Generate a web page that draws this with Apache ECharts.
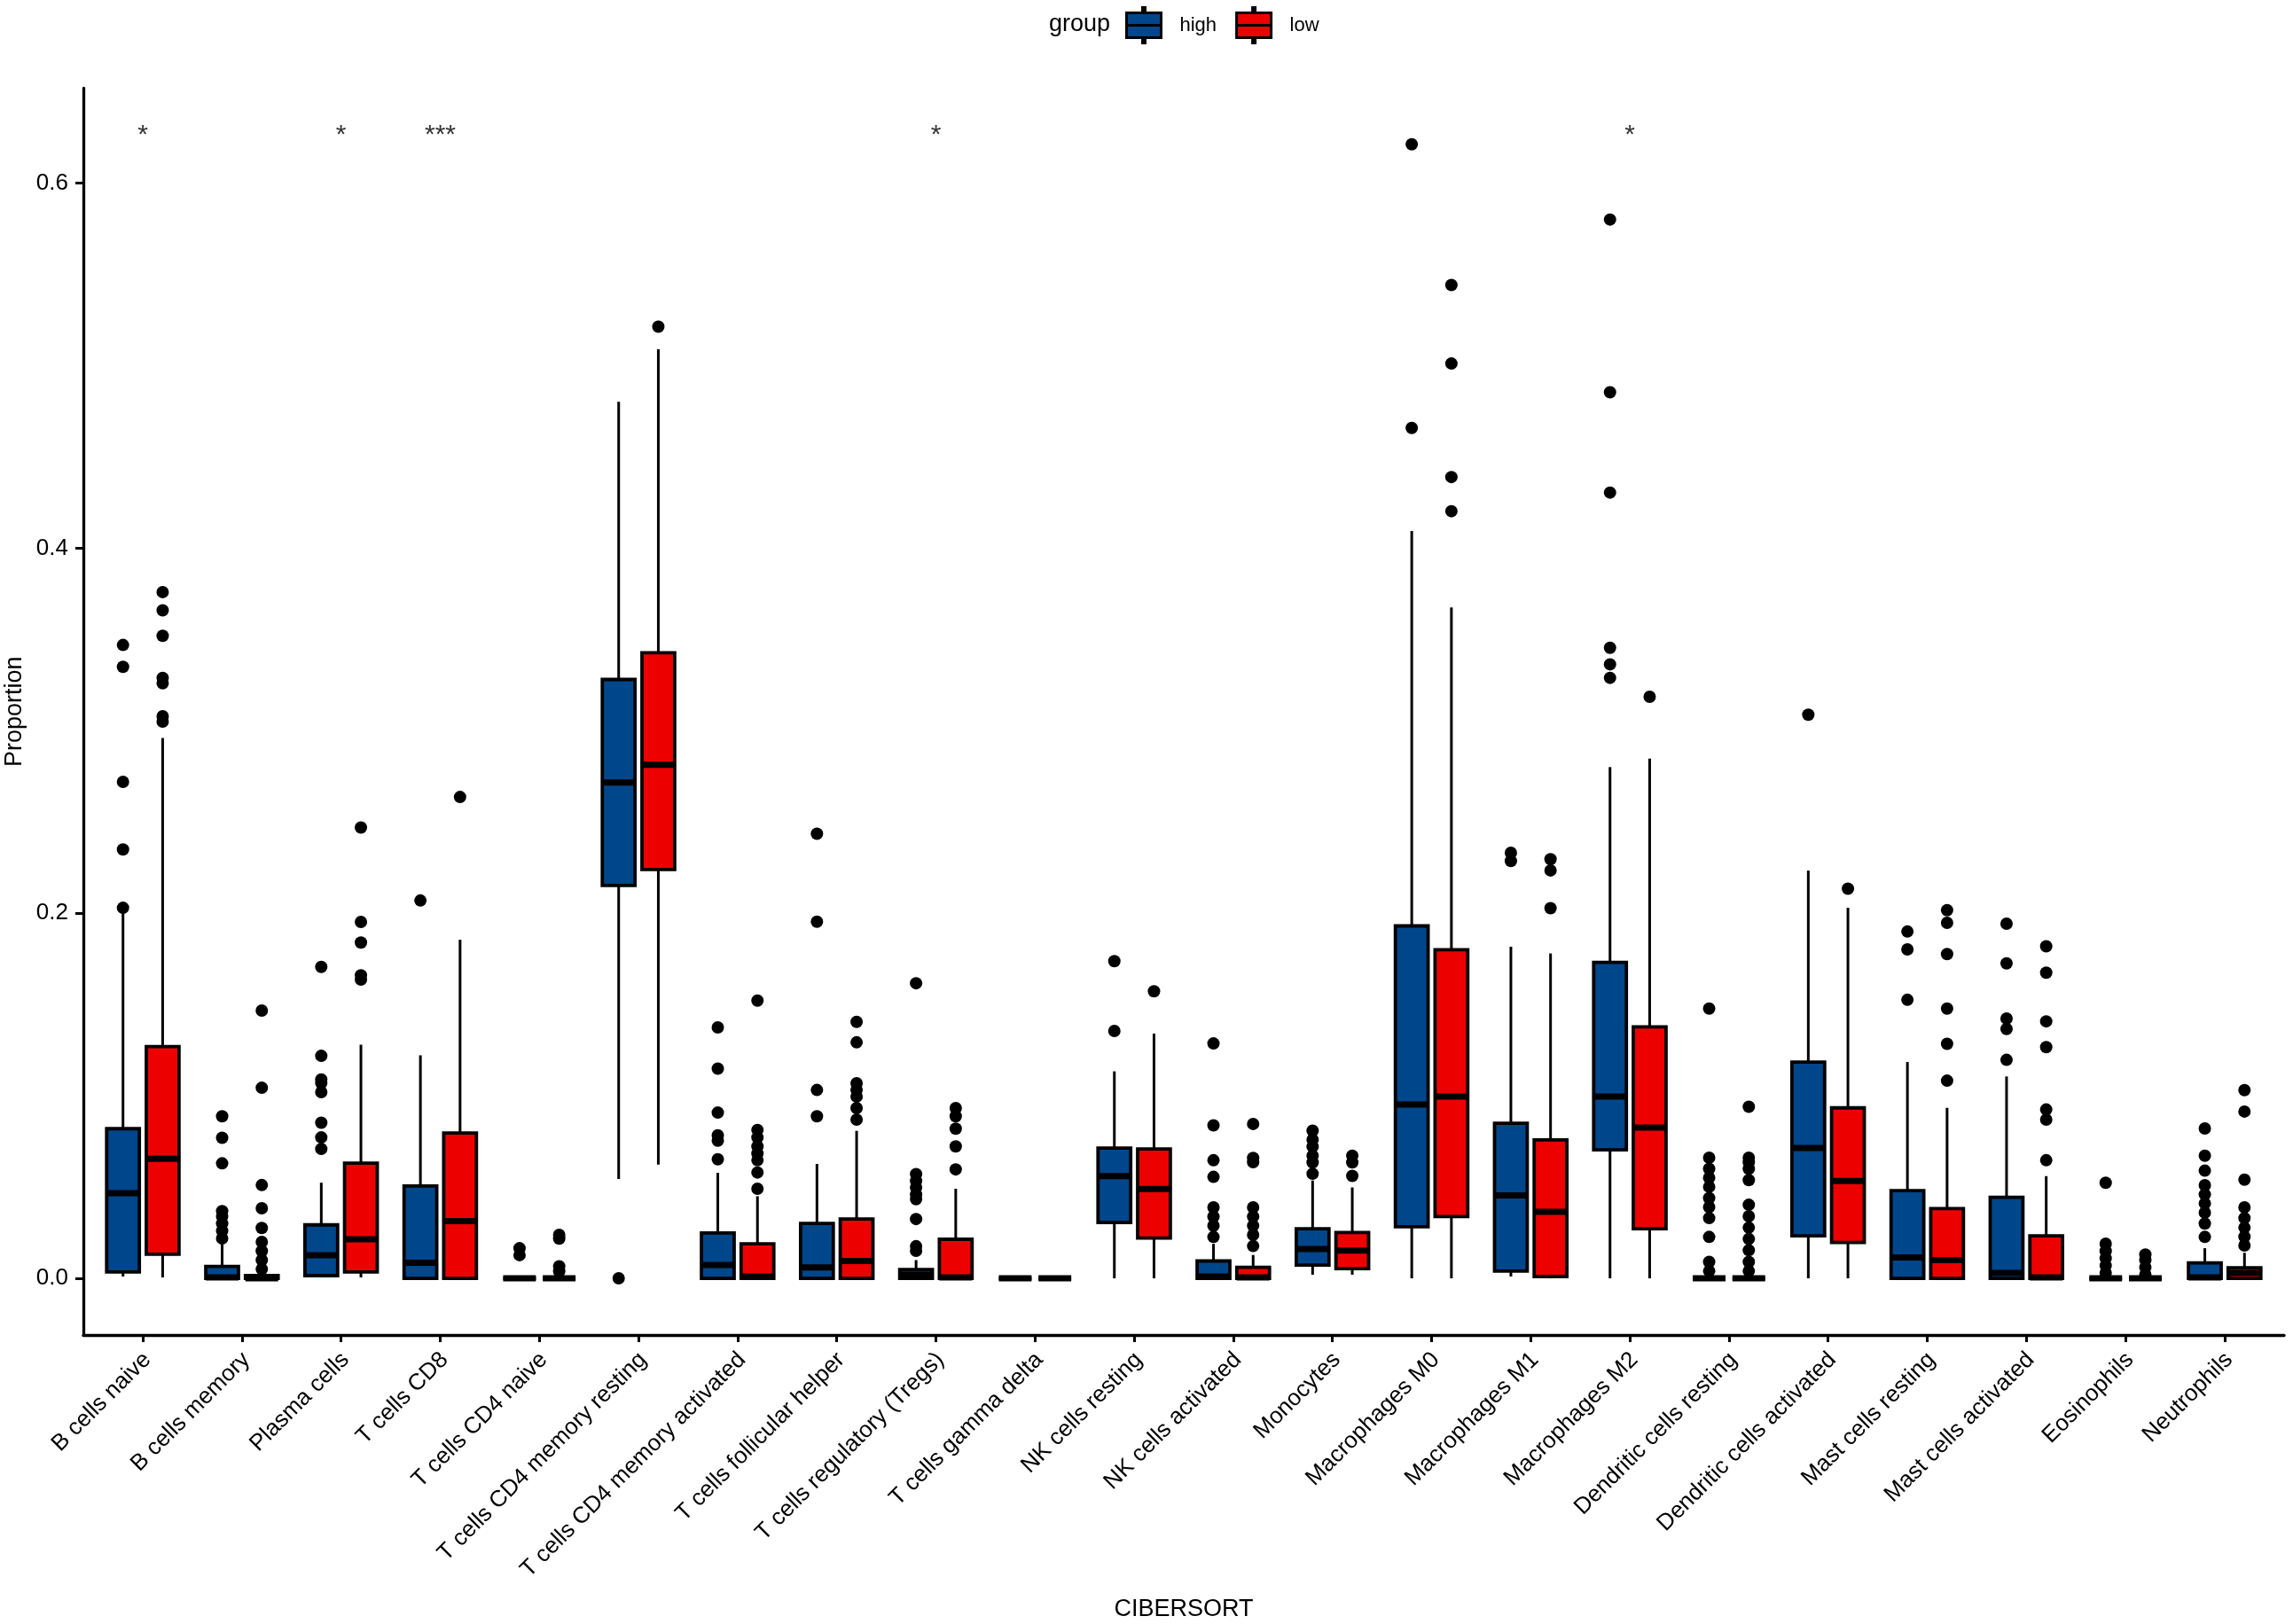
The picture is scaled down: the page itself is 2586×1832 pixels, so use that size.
<!DOCTYPE html>
<html>
<head>
<meta charset="utf-8">
<script src="https://cdn.jsdelivr.net/npm/echarts@6/dist/echarts.min.js"></script>
<style>html,body{margin:0;padding:0;background:#fff}#c{width:2586px;height:1832px}</style>
</head>
<body>
<div id="c"></div>
<script>
const categories = ['B cells naive','B cells memory','Plasma cells','T cells CD8','T cells CD4 naive','T cells CD4 memory resting','T cells CD4 memory activated','T cells follicular helper','T cells regulatory (Tregs)','T cells gamma delta','NK cells resting','NK cells activated','Monocytes','Macrophages M0','Macrophages M1','Macrophages M2','Dendritic cells resting','Dendritic cells activated','Mast cells resting','Mast cells activated','Eosinophils','Neutrophils'];
const groups = ['high','low'];
const yTicks = [0, 0.2, 0.4, 0.6];
// [lower whisker, Q1, median, Q3, upper whisker]
const highStats = [
  [0.001,0.0035,0.0466,0.082,0.200],
  [0,0,0.0005,0.0065,0.0194],
  [0.0005,0.0015,0.0126,0.0293,0.0524],
  [0,0,0.0085,0.0506,0.1222],
  [0,0,0,0,0],
  [0.0544,0.2152,0.2717,0.3281,0.4803],
  [0,0,0.0073,0.0249,0.0578],
  [0,0,0.006,0.0301,0.0627],
  [0,0,0.002,0.0048,0.010],
  [0,0,0,0,0],
  [0,0.0306,0.056,0.0714,0.1134],
  [0,0,0.001,0.0095,0.0189],
  [0.002,0.0073,0.0161,0.0272,0.0536],
  [0,0.0283,0.0952,0.1931,0.4094],
  [0.001,0.004,0.0454,0.085,0.1817],
  [0,0.0704,0.0996,0.1731,0.2801],
  [0,0,0,0,0.001],
  [0,0.0233,0.0714,0.1185,0.2234],
  [0,0,0.0115,0.0481,0.1185],
  [0,0,0.003,0.0444,0.1106],
  [0,0,0,0,0],
  [0,0,0.0005,0.0085,0.0165]
];
const lowStats = [
  [0.0005,0.0132,0.0655,0.127,0.296],
  [0,0,0,0.0015,0.003],
  [0.0005,0.0035,0.0214,0.0631,0.128],
  [0,0,0.0313,0.0796,0.1855],
  [0,0,0,0,0],
  [0.0623,0.224,0.2813,0.3427,0.509],
  [0,0,0.001,0.0189,0.045],
  [0,0,0.0095,0.0325,0.0808],
  [0,0,0.0005,0.0214,0.0491],
  [0,0,0,0,0],
  [0,0.0221,0.049,0.0709,0.1341],
  [0,0,0.0005,0.006,0.0128],
  [0.002,0.0053,0.0152,0.0251,0.0498],
  [0,0.0338,0.0996,0.18,0.3676],
  [0,0.001,0.0364,0.0759,0.178],
  [0,0.0272,0.0826,0.1378,0.2848],
  [0,0,0,0,0.001],
  [0,0.0196,0.0533,0.0934,0.203],
  [0,0,0.01,0.0382,0.0934],
  [0,0,0.0005,0.0233,0.056],
  [0,0,0,0,0],
  [0,0,0.003,0.0058,0.014]
];
const highOutliers = [
  [0.347,0.335,0.272,0.235,0.203],
  [0.0888,0.077,0.063,0.0368,0.034,0.030,0.026,0.0219],
  [0.1706,0.1219,0.109,0.107,0.102,0.0853,0.0772,0.0709],
  [0.207],
  [0.0165,0.0127],
  [0.0],
  [0.1375,0.1149,0.0908,0.0784,0.0754,0.0652],
  [0.2436,0.1954,0.1032,0.0888],
  [0.1617,0.0571,0.0534,0.0497,0.0459,0.0434,0.0325,0.0176,0.0151],
  [],
  [0.1738,0.1355],
  [0.1287,0.0838,0.0647,0.0556,0.0389,0.0338,0.0288,0.0227],
  [0.0809,0.0759,0.0722,0.0672,0.0635,0.0573],
  [0.6213,0.4659],
  [0.2332,0.2287],
  [0.5801,0.4855,0.4305,0.3455,0.3364,0.329],
  [0.1478,0.0661,0.06,0.055,0.0501,0.044,0.039,0.033,0.0227,0.009,0.004],
  [0.3088],
  [0.19,0.1802,0.1526],
  [0.1943,0.1726,0.1423,0.1366,0.1197],
  [0.0524,0.019,0.015,0.011,0.007,0.003],
  [0.0821,0.0672,0.059,0.051,0.046,0.041,0.036,0.030,0.0227]
];
const lowOutliers = [
  [0.376,0.366,0.352,0.329,0.326,0.308,0.305],
  [0.1467,0.1044,0.0511,0.0384,0.0276,0.020,0.015,0.010,0.005],
  [0.247,0.1953,0.184,0.166,0.1637],
  [0.2637],
  [0.0238,0.0218,0.0066,0.0038],
  [0.5214],
  [0.1522,0.0813,0.0772,0.0723,0.0684,0.0647,0.058,0.0491],
  [0.1405,0.1293,0.1069,0.1032,0.0996,0.0933,0.087],
  [0.0933,0.0888,0.082,0.0723,0.0597],
  [],
  [0.1573],
  [0.0846,0.066,0.0636,0.0389,0.0338,0.0288,0.0238,0.0177],
  [0.0672,0.0635,0.0561],
  [0.5442,0.5012,0.439,0.4203],
  [0.2296,0.2235,0.2028],
  [0.3186],
  [0.094,0.0661,0.0636,0.06,0.0538,0.0403,0.034,0.0278,0.0216,0.0154,0.009,0.004],
  [0.2135],
  [0.2017,0.1948,0.1777,0.1478,0.1285,0.1083],
  [0.1819,0.1675,0.1408,0.1267,0.0925,0.087,0.0647],
  [0.013,0.01,0.006,0.002],
  [0.1031,0.0914,0.0541,0.0389,0.033,0.0278,0.0228,0.018]
];
const sigLabels = ['*','','*','***','','','','','*','','','','','','','*','','','','','',''];
const sigY = 0.626;

const COLORS = {high:'#00468B', low:'#ED0000'};
const OFF = 0.2, HALF = 0.165;
const FONT = 'Liberation Sans, Arial, Helvetica, sans-serif';

function boxRender(offset, color) {
  return function (params, api) {
    const x = api.value(0) + offset;
    const lo = api.coord([x, api.value(1)]);
    const q1 = api.coord([x, api.value(2)]);
    const md = api.coord([x, api.value(3)]);
    const q3 = api.coord([x, api.value(4)]);
    const hi = api.coord([x, api.value(5)]);
    const xl = api.coord([x - HALF, 0])[0];
    const xr = api.coord([x + HALF, 0])[0];
    return {type:'group', children:[
      {type:'line', shape:{x1:hi[0],y1:hi[1],x2:q3[0],y2:q3[1]}, style:{stroke:'#000',lineWidth:3}},
      {type:'line', shape:{x1:lo[0],y1:lo[1],x2:q1[0],y2:q1[1]}, style:{stroke:'#000',lineWidth:3}},
      {type:'rect', shape:{x:xl,y:q3[1],width:xr-xl,height:q1[1]-q3[1]}, style:{fill:color,stroke:'#000',lineWidth:3.8}},
      {type:'line', shape:{x1:xl,y1:md[1],x2:xr,y2:md[1]}, style:{stroke:'#000',lineWidth:7}}
    ]};
  };
}
function outlierData(list, offset) {
  const out = [];
  list.forEach((arr, i) => arr.forEach(v => out.push([i + offset, v])));
  return out;
}
const ICON = 'path://M0,6 L39,6 L39,20 L0,20 Z M0,20 L39,20 L39,34 L0,34 Z M18,0 L21,0 L21,6 L18,6 Z M18,34 L21,34 L21,40 L18,40 Z';
const idx = categories.map((c, i) => i);

const chart = echarts.init(document.getElementById('c'), null, {renderer:'canvas'});
chart.setOption({
  animation: false,
  backgroundColor: '#fff',
  textStyle: {fontFamily: FONT, color:'#000'},
  title: {text:'group', left:1183, top:14, textStyle:{fontFamily:FONT, fontSize:27, fontWeight:'normal', color:'#000'}, padding:0},
  legend: {
    left: 1269, top: 7, itemWidth: 39, itemHeight: 40, itemGap: 21, selectedMode: false, padding: 0,
    textStyle: {fontFamily:FONT, fontSize:22, color:'#000', padding:[0,0,0,16]},
    data: groups.map(g => ({name:g, icon:ICON, itemStyle:{color:COLORS[g], borderColor:'#000', borderWidth:3}}))
  },
  grid: {left:94, right:10, top:99.5, bottom:326, containLabel:false, outerBoundsMode:'none'},
  xAxis: {
    type:'value', min:-0.6, max:21.6,
    axisLine:{show:true, onZero:false, lineStyle:{color:'#000', width:3.3}},
    axisTick:{show:true, customValues: idx, length:8, lineStyle:{color:'#000', width:3}},
    axisLabel:{show:true, customValues: idx, rotate:45, margin:19, align:'right', verticalAlign:'top', lineHeight:14,
      fontSize:26, color:'#000', fontFamily:FONT,
      formatter: v => categories[Math.round(v)] || ''},
    splitLine:{show:false},
    name:'CIBERSORT', nameLocation:'middle', nameGap:296,
    nameTextStyle:{fontSize:27, color:'#000', fontFamily:FONT}
  },
  yAxis: {
    type:'value', min:-0.03105, max:0.65205,
    axisLine:{show:true, onZero:false, lineStyle:{color:'#000', width:3.3}},
    axisTick:{show:true, customValues: yTicks, length:9, lineStyle:{color:'#000', width:3}},
    axisLabel:{show:true, customValues: yTicks, margin:17, fontSize:26, color:'#000', fontFamily:FONT,
      formatter: v => v.toFixed(1)},
    splitLine:{show:false},
    name:'Proportion', nameLocation:'middle', nameGap:62,
    nameTextStyle:{fontSize:27, color:'#000', fontFamily:FONT}
  },
  series: [
    {name:'high', type:'custom', renderItem: boxRender(-OFF, COLORS.high), encode:{x:0, y:[1,2,3,4,5]},
      itemStyle:{color:COLORS.high}, data: highStats.map((s, i) => [i].concat(s)), z:2, silent:true},
    {name:'low', type:'custom', renderItem: boxRender(OFF, COLORS.low), encode:{x:0, y:[1,2,3,4,5]},
      itemStyle:{color:COLORS.low}, data: lowStats.map((s, i) => [i].concat(s)), z:2, silent:true},
    {name:'highOut', type:'scatter', symbolSize:14, itemStyle:{color:'#000', opacity:1}, data: outlierData(highOutliers, -OFF), z:3, silent:true},
    {name:'lowOut', type:'scatter', symbolSize:14, itemStyle:{color:'#000', opacity:1}, data: outlierData(lowOutliers, OFF), z:3, silent:true},
    {name:'sig', type:'scatter', symbolSize:1, itemStyle:{color:'rgba(0,0,0,0)'}, silent:true, z:4,
      data: sigLabels.map((s, i) => [i, sigY, s]).filter(d => d[2] !== ''),
      label:{show:true, position:'inside', formatter: p => p.value[2], fontSize:30, color:'#000', fontFamily:FONT}}
  ]
});
</script>
</body>
</html>
